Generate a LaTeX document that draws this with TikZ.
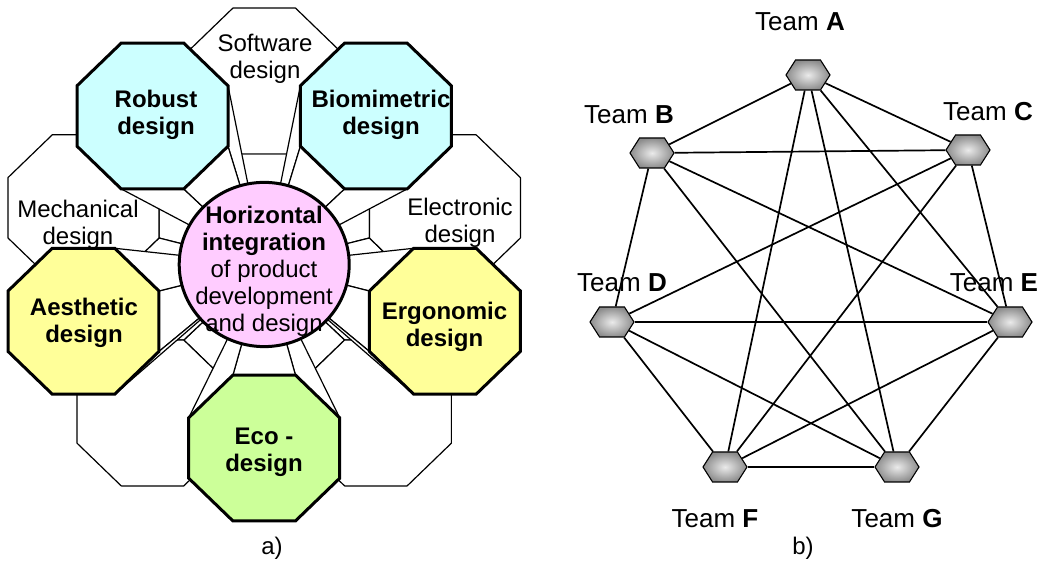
\documentclass[tikz,border=0pt]{standalone}
\usepackage{fontspec}
\setmainfont{Liberation Sans}
\usetikzlibrary{calc,shapes.symbols}

\definecolor{cyanface}{HTML}{CCFFFF}
\definecolor{yellowface}{HTML}{FFFF99}
\definecolor{greenface}{HTML}{CCFF99}
\definecolor{pinkhub}{HTML}{FFCCFF}

\tikzset{
  side/.style={fill=white, draw=black, line width=1.2pt, line join=round},
  plainoct/.style={fill=white, draw=black, line width=1.2pt, line join=round},
  boldoct/.style={draw=black, line width=3pt, line join=miter},
  lab/.style={align=center, font=\fontsize{24}{27}\selectfont, inner sep=0pt},
  teamnode/.style={signal, signal to=east and west, signal pointer angle=115,
    minimum width=44pt, minimum height=30pt, inner sep=0pt, draw=black,
    line width=1.1pt, shading=radial, inner color=white!92!black,
    outer color=black!45},
  link/.style={line width=1.7pt},
  tlab/.style={font=\fontsize{26}{30}\selectfont, inner sep=0pt}
}

% An octagon seen in perspective: the side faces turned towards the hub
% are drawn first, then the front face.
% #1 angle around the hub, #2 name, #3 style of the front face
\newcommand\extrudedoct[3]{%
  \coordinate (#2) at (#1:190);
  \foreach \k in {0,...,7}{%
    \pgfmathtruncatemacro{\front}{cos(#1+180-45*\k) > 0.4016 ? 1 : 0}%
    \ifnum\front=1
      \filldraw[side] ($(#2)+({45*\k-22.5}:81.72)$) -- ($(#2)+({45*\k+22.5}:81.72)$) -- (hub) -- cycle;
    \fi
  }%
  \filldraw[#3] ($(#2)+(22.5:81.72)$) -- ($(#2)+(67.5:81.72)$) -- ($(#2)+(112.5:81.72)$)
    -- ($(#2)+(157.5:81.72)$) -- ($(#2)+(202.5:81.72)$) -- ($(#2)+(247.5:81.72)$)
    -- ($(#2)+(292.5:81.72)$) -- ($(#2)+(337.5:81.72)$) -- cycle;
}

\begin{document}
\begin{tikzpicture}[x=1pt,y=1pt]
\useasboundingbox[fill=white] (0,0) rectangle (1047,583);

% ---------- a) design disciplines around the hub ----------
\begin{scope}[shift={(264.2,318.5)}, yscale=0.966]
  \coordinate (hub) at (0,0);
  % plain disciplines
  \extrudedoct{90}{soft}{plainoct}
  \extrudedoct{18}{elec}{plainoct}
  \extrudedoct{-54}{blankr}{plainoct}
  \extrudedoct{234}{blankl}{plainoct}
  \extrudedoct{162}{mech}{plainoct}
  % highlighted disciplines
  \extrudedoct{54}{bio}{boldoct, fill=cyanface}
  \extrudedoct{-18}{ergo}{boldoct, fill=yellowface}
  \extrudedoct{-90}{eco}{boldoct, fill=greenface}
  \extrudedoct{198}{aest}{boldoct, fill=yellowface}
  \extrudedoct{126}{rob}{boldoct, fill=cyanface}
  \filldraw[fill=pinkhub, draw=black, line width=3pt] (hub) circle (85);
\end{scope}

\node[lab] (tsoft) at (265,524) {Software\\design};
\node[lab] (tmech) at (78,358.5) {Mechanical\\design};
\node[lab] (telec) at (460,360.5) {Electronic\\design};
\node[lab] (trob) at (156,468.5) {\textbf{Robust}\\\textbf{design}};
\node[lab] (tbio) at (381,468.5) {\textbf{Biomimetric}\\\textbf{design}};
\node[lab] (taest) at (84,260.5) {\textbf{Aesthetic}\\\textbf{design}};
\node[lab] (tergo) at (444.5,256.5) {\textbf{Ergonomic}\\\textbf{design}};
\node[lab] (teco) at (264,130.5) {\textbf{Eco -}\\\textbf{design}};
\node[lab] (thub) at (264,312) {\textbf{Horizontal}\\\textbf{integration}\\of product\\development\\and design};

\node[lab] (capa) at (272,35) {a)};

% ---------- b) fully linked teams ----------
\node[teamnode] (A) at (808,508) {};
\node[teamnode] (B) at (652,430) {};
\node[teamnode] (C) at (968,433) {};
\node[teamnode] (D) at (612,261) {};
\node[teamnode] (E) at (1010,261) {};
\node[teamnode] (F) at (725,116) {};
\node[teamnode] (G) at (897,116) {};

\foreach \u/\v in {A/B, A/C, A/E, A/F, A/G, B/C, B/D, B/E, B/G, C/D, C/E, C/F,
                   D/E, D/F, D/G, E/F, E/G, F/G}
  \draw[link] (\u) -- (\v);

\node[tlab] (labA) at (800,561) {Team \textbf{A}};
\node[tlab] (labB) at (629,468) {Team \textbf{B}};
\node[tlab] (labC) at (988,471) {Team \textbf{C}};
\node[tlab] (labD) at (622,300) {Team \textbf{D}};
\node[tlab] (labE) at (994,300) {Team \textbf{E}};
\node[tlab] (labF) at (715,64) {Team \textbf{F}};
\node[tlab] (labG) at (897,64) {Team \textbf{G}};

\node[lab] (capb) at (803,35) {b)};
\end{tikzpicture}
\end{document}
